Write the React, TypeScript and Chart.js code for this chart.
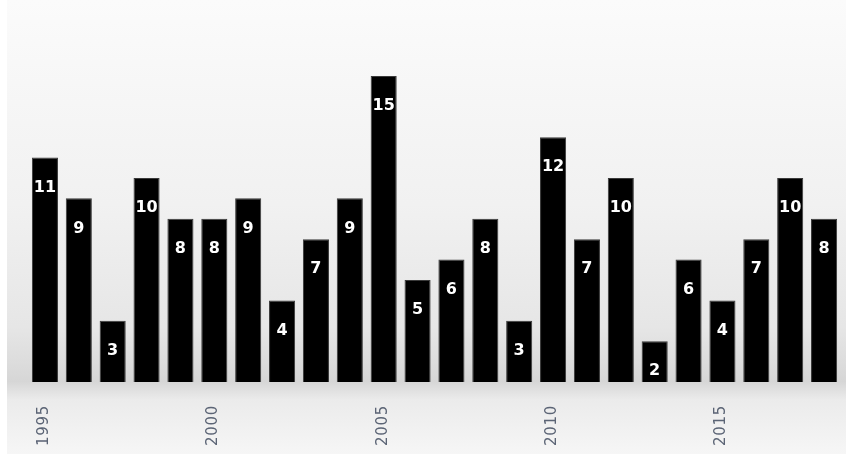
import React, { useEffect, useRef } from "react";
import { Chart, registerables } from "chart.js";

Chart.register(...registerables);

const years = [
  "1995", "1996", "1997", "1998", "1999", "2000", "2001", "2002", "2003", "2004",
  "2005", "2006", "2007", "2008", "2009", "2010", "2011", "2012", "2013", "2014",
  "2015", "2016", "2017", "2018",
];
const counts = [11, 9, 3, 10, 8, 8, 9, 4, 7, 9, 15, 5, 6, 8, 3, 12, 7, 10, 2, 6, 4, 7, 10, 8];
const shownTicks = ["1995", "2000", "2005", "2010", "2015"];

const bgPlugin = {
  id: "bgPlugin",
  beforeDraw(chart: any) {
    const { ctx, width, height } = chart;
    ctx.save();
    ctx.fillStyle = "#ffffff";
    ctx.fillRect(0, 0, width, height);
    const g = ctx.createLinearGradient(0, 0, 0, height);
    g.addColorStop(0, "#fbfbfb");
    g.addColorStop(0.45, "#f1f1f1");
    g.addColorStop(0.72, "#e6e6e6");
    g.addColorStop(0.8, "#dcdcdc");
    g.addColorStop(0.84, "#d6d6d6");
    g.addColorStop(0.88, "#ebebeb");
    g.addColorStop(1, "#f6f6f6");
    ctx.fillStyle = g;
    ctx.fillRect(7, 0, width - 7, height);
    ctx.restore();
  },
};

const labelsPlugin = {
  id: "labelsPlugin",
  afterDatasetsDraw(chart: any) {
    const { ctx, chartArea } = chart;
    const meta = chart.getDatasetMeta(0);
    const data = chart.data.datasets[0].data as number[];
    const labels = chart.data.labels as string[];
    ctx.save();
    ctx.font = "bold 16px 'DejaVu Sans'";
    ctx.fillStyle = "#ffffff";
    ctx.textAlign = "center";
    ctx.textBaseline = "middle";
    meta.data.forEach((bar: any, i: number) => {
      ctx.fillText(String(data[i]), bar.x, bar.y + 30);
    });
    ctx.font = "15px 'DejaVu Sans'";
    (ctx as any).letterSpacing = "0.7px";
    ctx.fillStyle = "#5b6475";
    ctx.textAlign = "right";
    ctx.textBaseline = "middle";
    meta.data.forEach((bar: any, i: number) => {
      if (!shownTicks.includes(labels[i])) return;
      ctx.save();
      ctx.translate(bar.x - 1, chartArea.bottom + 23);
      ctx.rotate(-Math.PI / 2);
      ctx.fillText(labels[i], 0, 0);
      ctx.restore();
    });
    ctx.restore();
  },
};

export default function App() {
  const ref = useRef<HTMLCanvasElement>(null);
  useEffect(() => {
    document.body.style.margin = "0";
    const chart = new Chart(ref.current!, {
      type: "bar",
      data: {
        labels: years,
        datasets: [
          {
            data: counts,
            backgroundColor: "#000000",
            borderColor: "#3a3a3a",
            borderWidth: 1,
            barPercentage: 0.77,
            categoryPercentage: 1,
          },
        ],
      },
      options: {
        responsive: false,
        animation: false,
        layout: { padding: { left: 28, right: 5, top: 0, bottom: 72 } },
        plugins: { legend: { display: false }, tooltip: { enabled: false } },
        scales: {
          x: {
            display: false,
          },
          y: {
            display: false,
            min: 0,
            max: 18.72,
          },
        },
      },
      plugins: [bgPlugin, labelsPlugin],
    });
    return () => chart.destroy();
  }, []);
  return <canvas ref={ref} width={846} height={454} style={{ display: "block" }} />;
}
